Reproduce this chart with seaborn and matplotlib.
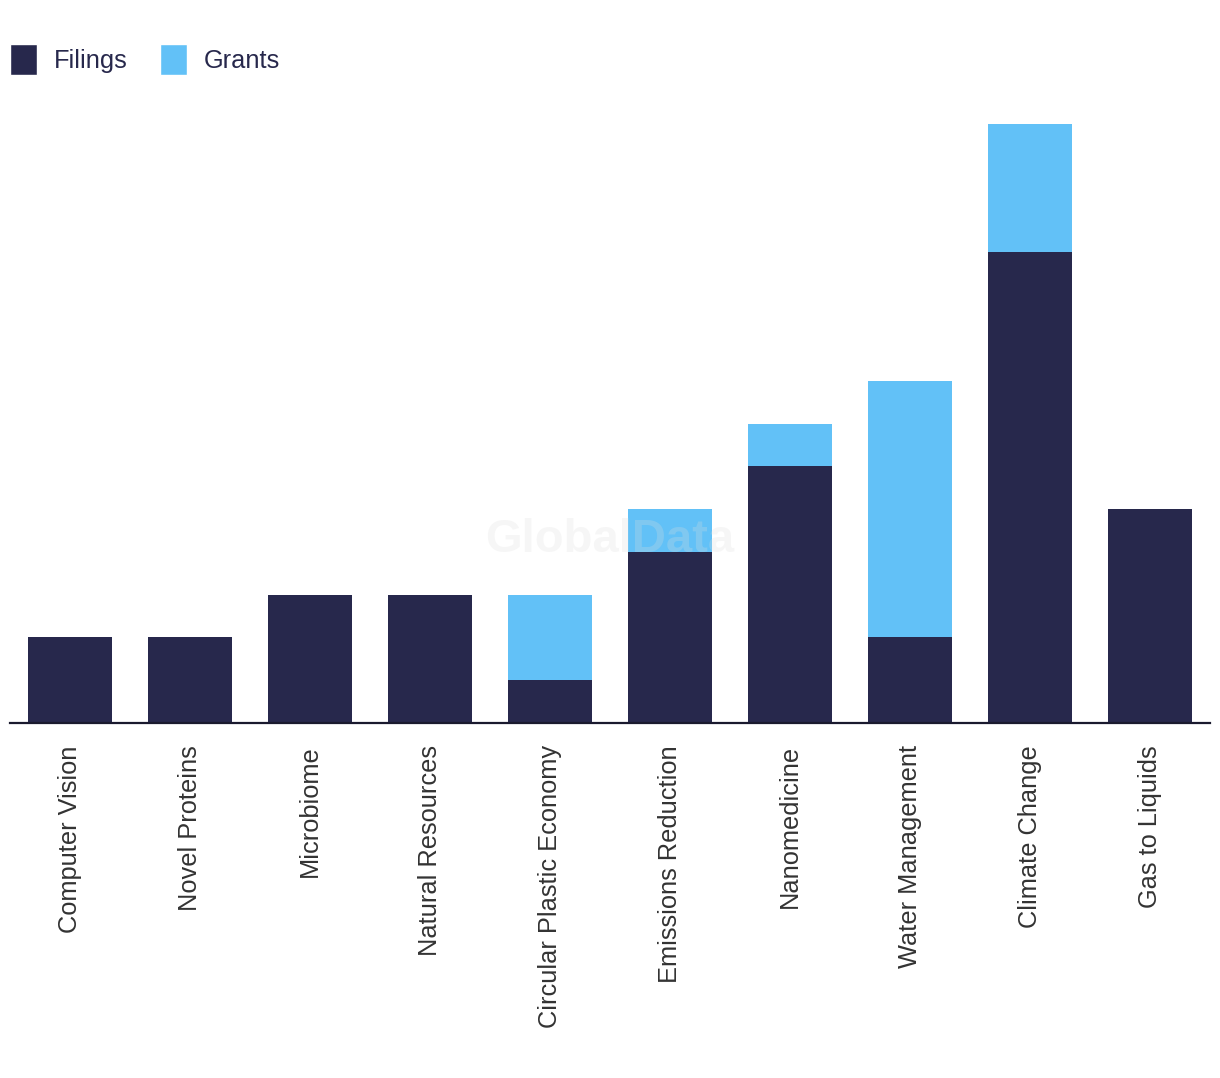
import matplotlib
matplotlib.use("Agg")
import matplotlib.pyplot as plt
import seaborn as sns
import pandas as pd
from matplotlib.patches import Patch

categories = ["Computer Vision", "Novel Proteins", "Microbiome", "Natural Resources",
              "Circular Plastic Economy", "Emissions Reduction", "Nanomedicine",
              "Water Management", "Climate Change", "Gas to Liquids"]
filings = [2, 2, 3, 3, 1, 4, 6, 2, 11, 5]
grants = [0, 0, 0, 0, 2, 1, 1, 6, 3, 0]

FILING_COLOR = "#27284c"
GRANT_COLOR = "#62c1f7"

df = pd.DataFrame({"category": categories, "Filings": filings, "Grants": grants})
df["Total"] = df["Filings"] + df["Grants"]

sns.set_theme(style="white")
plt.rcParams["font.family"] = ["Liberation Sans", "DejaVu Sans"]

fig = plt.figure(figsize=(12.2, 10.78), dpi=100)
W, H = 1220, 1078
ax = fig.add_axes([10 / W, 1 - 723 / H, 1200 / W, (723 - 124) / H])

sns.barplot(data=df, x="category", y="Total", color=GRANT_COLOR, width=0.7,
            saturation=1, ax=ax, order=categories, linewidth=0, edgecolor="none")
sns.barplot(data=df, x="category", y="Filings", color=FILING_COLOR, width=0.7,
            saturation=1, ax=ax, order=categories, linewidth=0, edgecolor="none")

ax.set_xlim(-0.5, len(categories) - 0.5)
ax.set_ylim(0, 14)
ax.set_xlabel("")
ax.set_ylabel("")
ax.set_yticks([])
for s in ["top", "left", "right"]:
    ax.spines[s].set_visible(False)
ax.spines["bottom"].set_color("#1a1a2e")
ax.spines["bottom"].set_linewidth(1.6)
ax.tick_params(axis="x", length=0, pad=16)
ax.set_xticks(range(len(categories)))
ax.set_xticklabels(categories, rotation=90, fontsize=18.3, color="#333333", va="top")

fig.text(610 / W, 1 - 540 / H, "GlobalData", fontsize=34, fontweight="bold",
         color="#dddddd", alpha=0.25, ha="center", va="center", zorder=10)

handles = [Patch(facecolor=FILING_COLOR, label="Filings"),
           Patch(facecolor=GRANT_COLOR, label="Grants")]
fig.legend(handles=handles, loc="upper left", bbox_to_anchor=(10 / W, 1 - 44 / H),
           ncol=2, frameon=False, fontsize=18.3, handlelength=1.08, handleheight=1.5,
           handletextpad=0.66, columnspacing=1.25, borderaxespad=0.0, borderpad=0.0,
           labelcolor="#27284c")

fig.savefig("out.png", dpi=100)
